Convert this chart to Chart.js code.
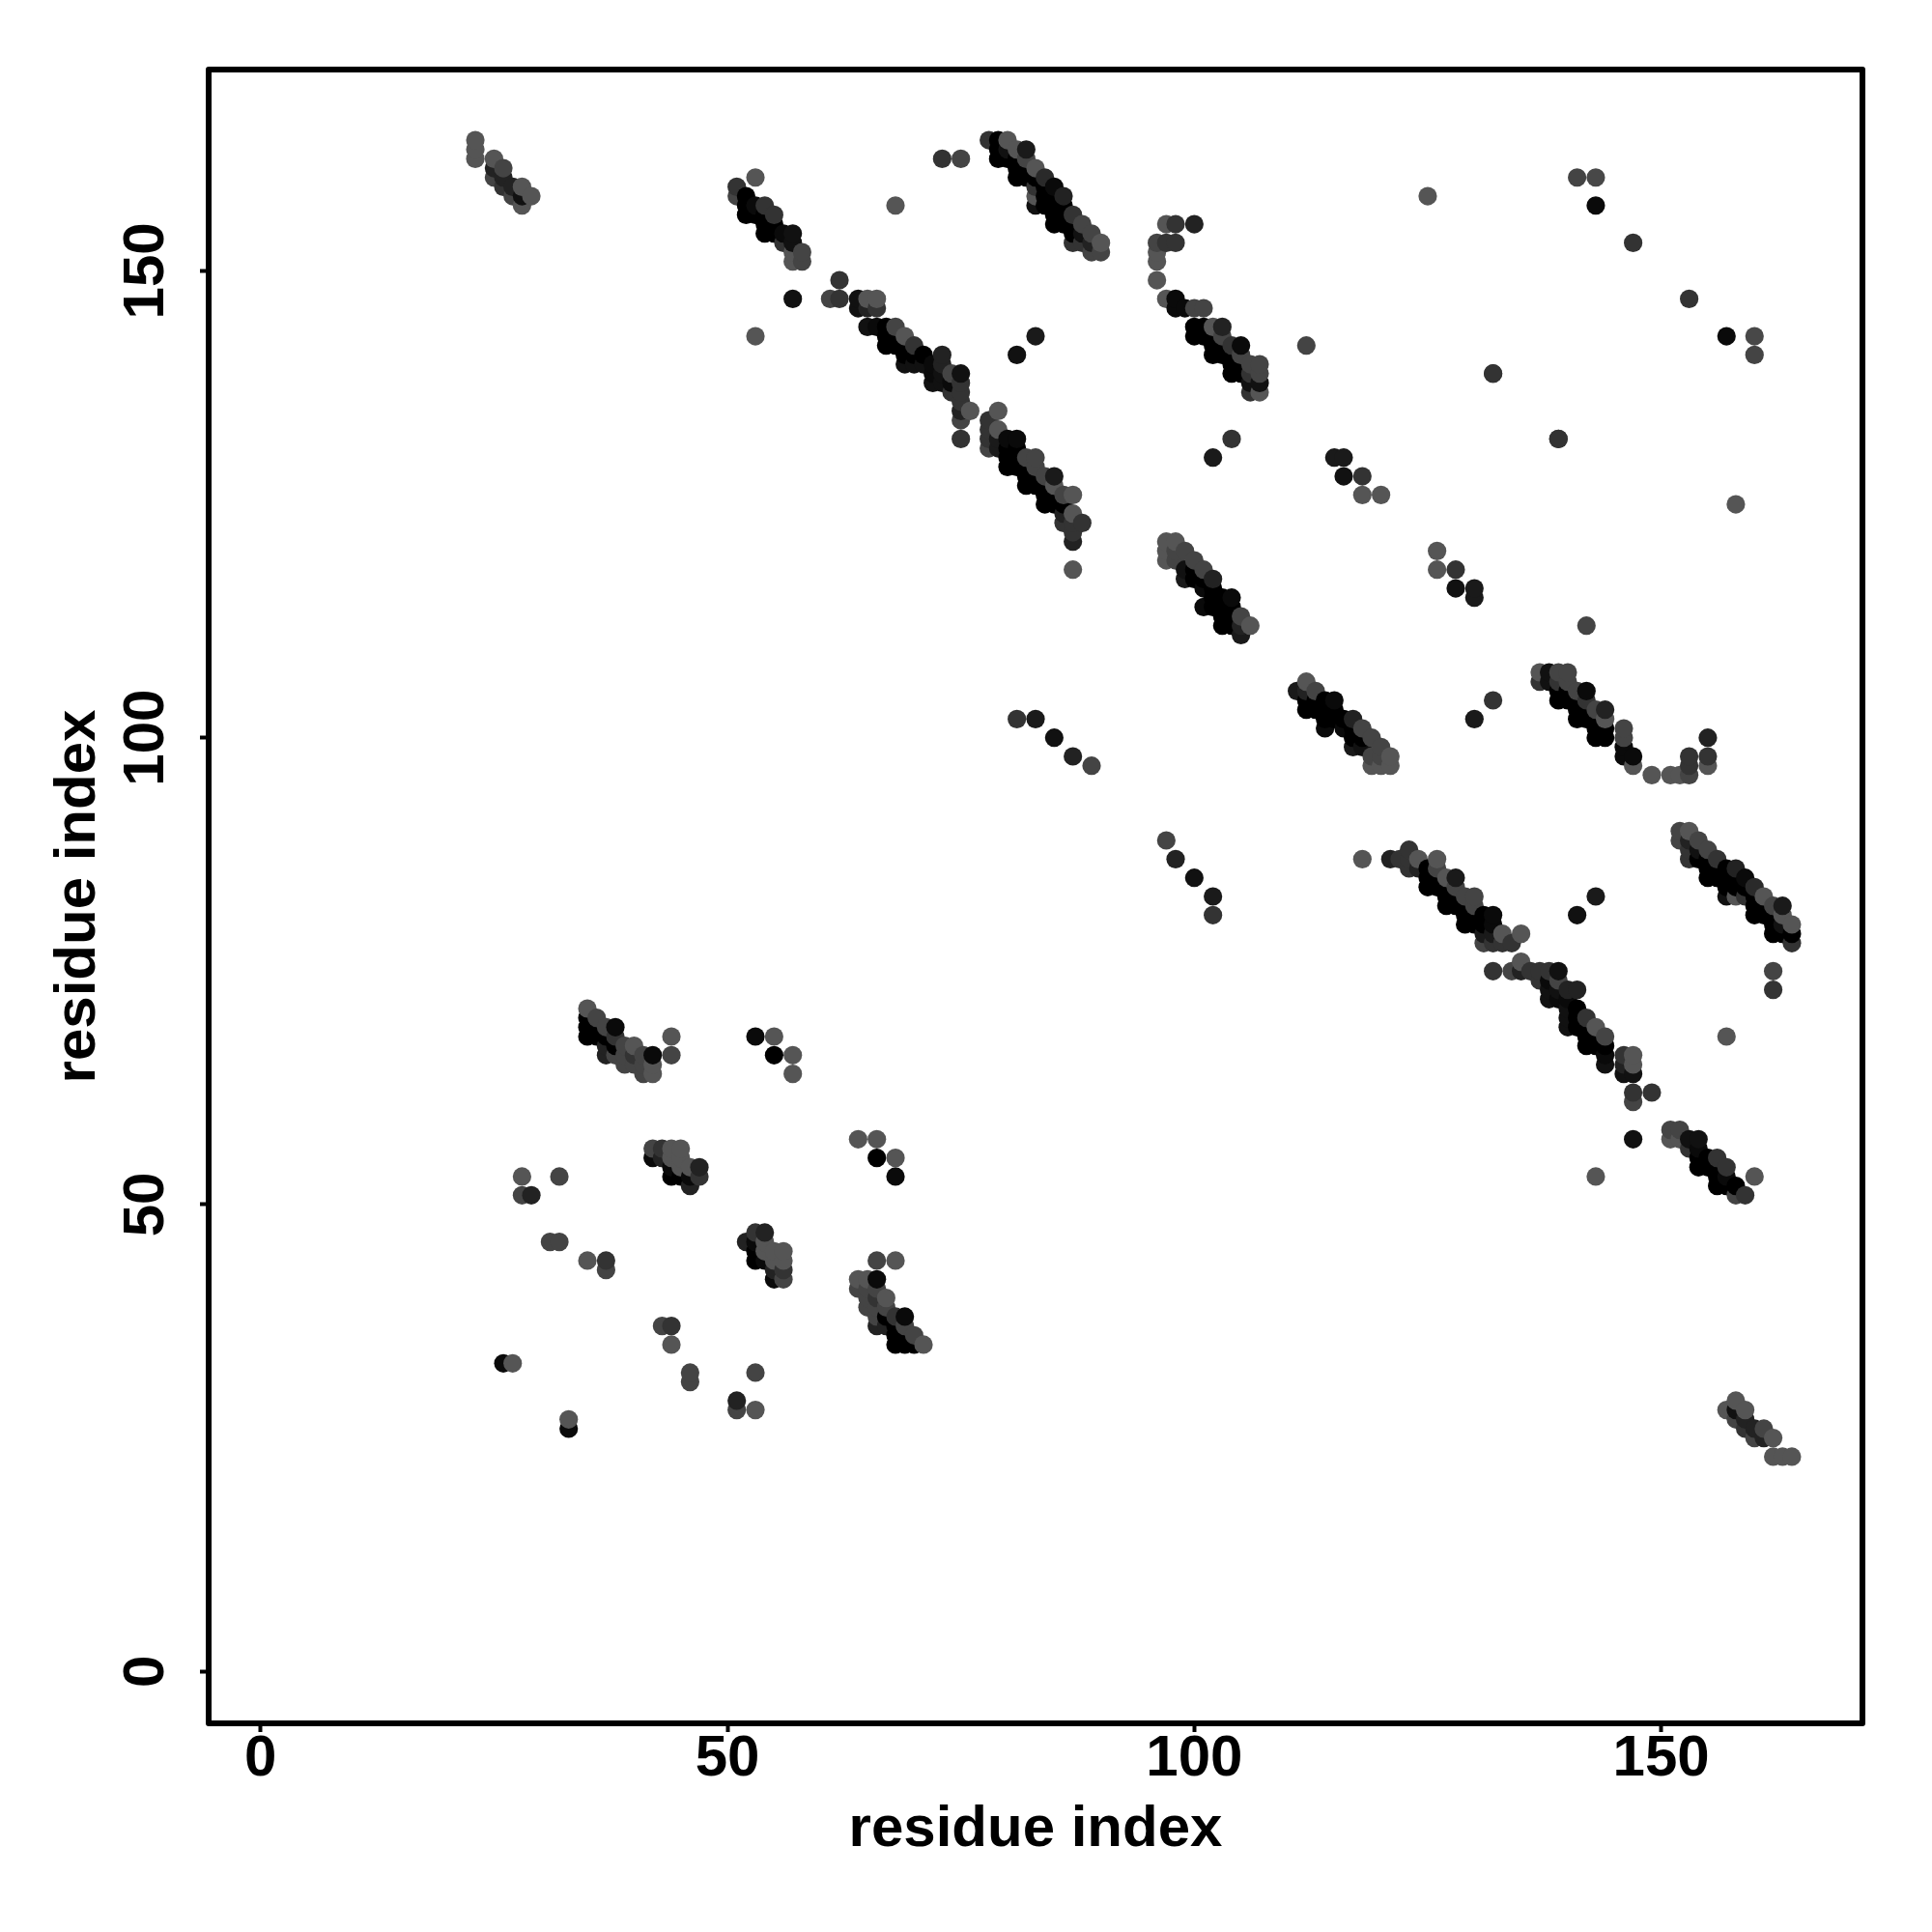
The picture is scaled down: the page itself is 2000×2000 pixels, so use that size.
<!DOCTYPE html>
<html>
<head>
<meta charset="utf-8">
<style>html,body{margin:0;padding:0;background:#fff}canvas{display:block}</style>
<script src="https://cdn.jsdelivr.net/npm/chart.js@4/dist/chart.umd.min.js"></script>
</head>
<body>
<canvas id="c" width="2000" height="2000" style="width:2000px;height:2000px"></canvas>
<script>
const axisTitle = "residue index";
const tickValues = [0, 50, 100, 150];

// Contacts: residue i, residue j, grey level. The map is symmetric.
const iA = [23,23,23,25,25,25,26,26,26,27,27,28,28,28,29];
const jA = [164,163,162,162,161,160,161,160,159,159,158,159,158,157,158];
const gA = [85,85,85,85,34,68,68,34,51,34,68,85,17,85,85];

const iB = [51,51,52,52,52,53,53,53,54,54,54,54,55,55,55,56,56,57,57,57,57,58,58,53,57];
const jB = [159,158,158,157,156,160,157,156,157,156,155,154,156,155,154,154,153,154,153,152,151,152,151,143,147];
const gB = [51,68,0,0,0,85,10,0,51,0,0,0,51,0,0,10,51,17,17,85,85,68,68,85,17];

const iC = [61,62,62,64,64,65,65,65,66,66,66,67,67,67,68,68,68,69,69,69,69,70,70,70,71,71,72,72,72,73,73,73,73,74,74,74,75,75,75,75,75,75,75,76];
const jC = [147,149,147,147,146,147,146,144,147,146,144,144,143,142,144,143,142,143,142,141,140,142,141,140,141,140,140,139,138,141,140,139,138,139,138,137,139,138,137,136,135,134,132,135];
const gC = [68,51,51,17,17,85,34,17,85,51,10,0,0,0,68,0,0,85,0,0,17,51,0,17,0,17,10,10,17,34,34,17,17,68,10,51,17,51,51,51,34,68,51,85];

const iD = [78,79,79,79,80,80,80,81,81,81,81,82,82,82,82,83,83,83,83,83,84,84,84,84,85,85,85,85,85,86,86,86,86,87,87,87,87,88,88,88,89,89,89,90,90];
const jD = [164,164,163,162,164,163,162,163,162,161,160,163,162,161,160,161,160,159,158,157,160,159,158,157,159,158,157,156,155,158,157,156,155,156,155,154,153,155,154,153,154,153,152,153,152];
const gD = [51,0,0,0,85,17,0,85,0,0,0,26,68,0,0,85,0,51,85,17,42,0,0,0,10,0,0,0,0,34,0,0,0,51,0,0,51,68,17,51,68,34,68,85,68];

const iE = [78,78,78,78,79,79,79,79,80,80,80,80,81,81,81,81,82,82,82,82,83,83,83,83,84,84,84,84,85,85,85,85,86,86,86,86,87,87,87,87,87,88,87];
const jE = [134,133,132,131,135,133,132,131,132,131,130,129,132,131,130,129,130,129,128,127,130,129,128,127,128,127,126,125,128,127,126,125,126,125,124,123,126,124,123,122,121,123,118];
const gE = [51,51,51,68,85,85,26,26,10,0,0,0,10,0,0,0,68,0,0,0,68,68,0,0,68,0,0,0,26,85,0,0,68,0,34,51,85,85,51,51,34,51,85];

const iF = [96,96,96,96,97,97,97,98,98,98,98,99,100,100,100,101,101,101,102,102,102,102,103,103,103,103,104,104,104,104,105,105,105,105,106,106,106,106,107,107,107,107];
const jF = [153,152,151,149,155,153,147,155,153,147,146,146,155,146,144,146,144,143,144,143,142,141,144,143,142,141,142,141,140,139,142,141,140,139,140,139,138,137,140,139,138,137];
const gF = [68,85,85,85,85,51,85,51,51,10,10,10,34,68,0,68,0,0,85,0,0,0,34,68,0,0,51,0,0,0,10,68,0,0,68,51,17,51,68,68,17,85];
const iF2 = [100];
const jF2 = [143];
const gF2 = [0];

const iG = [97,97,97,98,98,98,99,99,99,100,100,100,101,101,101,101,102,102,102,102,103,103,103,103,104,104,104,104,105,105,105,106];
const jG = [121,120,119,121,120,119,120,118,117,119,118,117,118,117,116,114,117,116,115,114,115,114,113,112,115,114,113,112,113,112,111,112];
const gG = [85,85,85,85,68,68,68,17,26,68,0,0,68,0,10,10,34,0,0,0,0,0,0,0,10,0,0,0,68,34,26,85];

const iN1 = [35,35,35,35,36,36,36,37,37,37,37,38,38,38,38,39,39,39,40,40,40,41,41,41,42,42,42];
const jN1 = [71,70,69,68,70,69,68,69,68,67,66,69,68,67,66,67,66,65,67,66,65,66,65,64,66,65,64];
const gN1 = [85,0,0,0,68,0,0,68,0,34,34,10,51,0,68,68,68,68,85,51,68,68,68,68,10,85,85];

const iN2 = [42,42,43,43,44,44,44,44,45,45,45,45,46,46,46,47,47];
const jN2 = [56,55,56,55,56,55,54,53,56,55,54,53,54,53,52,54,53];
const gN2 = [68,10,51,34,85,85,10,0,85,85,85,0,85,10,34,34,51];

const iS = [26,27,28,28,29,31,32,32,35,37,37,44,44,53,55,55,57,57,68,73,75,81,83,81,83,85,87,89,102,104,112,115,116,116,118,118,120,125,132,139,141,143,143,147];
const jS = [33,33,53,51,51,46,46,53,44,44,43,68,66,68,68,66,66,64,157,162,162,141,143,102,102,100,98,97,130,132,142,130,130,128,128,126,126,158,139,132,160,160,157,153];
const gS = [10,85,85,68,34,68,68,68,85,51,68,85,68,10,85,0,85,85,85,51,68,17,26,51,26,17,34,68,26,51,68,26,26,17,51,85,85,85,51,51,68,72,10,51];

const iGroups = [iA,iB,iC,iD,iE,iF,iF2,iG,iN1,iN2,iS];
const jGroups = [jA,jB,jC,jD,jE,jF,jF2,jG,jN1,jN2,jS];
const gGroups = [gA,gB,gC,gD,gE,gF,gF2,gG,gN1,gN2,gS];

const points = [];
iGroups.forEach((is, k) => is.forEach((v, n) => {
  points.push({x: v, y: jGroups[k][n], g: gGroups[k][n]});
  points.push({x: jGroups[k][n], y: v, g: gGroups[k][n]});
}));
points.sort((a, b) => a.x - b.x || a.y - b.y);

const fontFamily = '"Liberation Sans", Arial, Helvetica, sans-serif';
const tickFont = {family: fontFamily, size: 60, weight: 'bold'};

const framePlugin = {
  id: 'frame',
  afterDatasetsDraw(chart) {
    const a = chart.chartArea, c = chart.ctx;
    c.save();
    c.strokeStyle = '#000';
    c.lineWidth = 6;
    c.lineJoin = 'round';
    c.strokeRect(a.left, a.top, a.right - a.left, a.bottom - a.top);
    c.restore();
  }
};

function axis(extra) {
  return Object.assign({
    type: 'linear',
    min: -5.56,
    max: 171.56,
    border: {display: false},
    grid: {display: true, drawOnChartArea: false, drawTicks: true, tickLength: 9, tickWidth: 4, tickColor: '#000'},
    afterBuildTicks(s) { s.ticks = tickValues.map(v => ({value: v})); }
  }, extra);
}

new Chart(document.getElementById('c'), {
  type: 'scatter',
  data: {datasets: [{
    data: points.map(p => ({x: p.x, y: p.y})),
    pointRadius: 9.6,
    pointBorderWidth: 0,
    pointHoverRadius: 9.6,
    pointBackgroundColor: points.map(p => `rgb(${p.g},${p.g},${p.g})`)
  }]},
  options: {
    responsive: false,
    devicePixelRatio: 1,
    animation: false,
    layout: {padding: {top: 72, right: 72, left: 0, bottom: 0}},
    plugins: {legend: {display: false}, tooltip: {enabled: false}, title: {display: false}},
    scales: {
      x: axis({
        position: 'bottom',
        afterFit(s) { s.height = 216; },
        ticks: {color: '#000', font: tickFont, padding: -8, maxRotation: 0, minRotation: 0, autoSkip: false, callback: v => String(v)},
        title: {display: true, text: axisTitle, color: '#000', font: tickFont, padding: {top: 0, bottom: 70}}
      }),
      y: axis({
        position: 'left',
        afterFit(s) { s.width = 216; },
        ticks: {color: '#000', font: tickFont, padding: 4, minRotation: 90, maxRotation: 90, crossAlign: 'center', autoSkip: false, callback: v => String(v)},
        title: {display: true, text: axisTitle, color: '#000', font: tickFont, padding: {top: 45, bottom: 0}}
      })
    }
  },
  plugins: [framePlugin]
});
</script>
</body>
</html>
